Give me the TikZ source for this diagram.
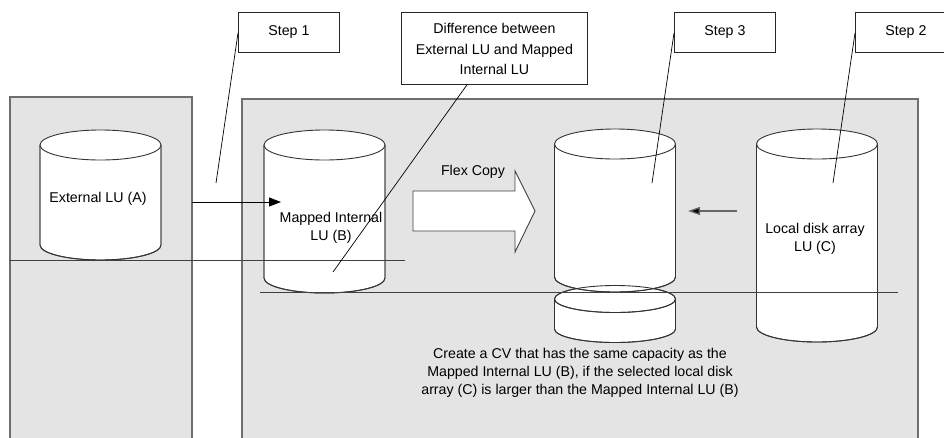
\documentclass[tikz,border=0pt]{standalone}
\usepackage{fontspec}
\setmainfont{Liberation Sans}
\usetikzlibrary{arrows.meta}
\definecolor{panelfill}{HTML}{E4E4E4}
\definecolor{panelline}{HTML}{6E6E6E}
\definecolor{rule}{HTML}{404040}
\newcommand{\mycyl}[5]{% name, cx, top cy, bottom cy, ry
  \coordinate (#1) at (#2,{(#3+#4)/2});
  \path[cylline,fill=white] (#2-60.5,#3) -- (#2-60.5,#4)
     arc[start angle=180,end angle=360,x radius=60.5pt,y radius=#5pt] -- (#2+60.5,#3) -- cycle;
  \draw[cylline] (#2-60.5,#3) -- (#2-60.5,#4)
     arc[start angle=180,end angle=360,x radius=60.5pt,y radius=#5pt] -- (#2+60.5,#3);
  \draw[cylline,fill=white] (#2,#3) ellipse[x radius=60.5pt,y radius=#5pt];
}
\tikzset{
  cylline/.style={draw=black!80,line width=0.9pt},
  panel/.style={fill=panelfill,draw=panelline,line width=1.1pt},
  callbox/.style={draw=black!85,fill=white,line width=0.8pt,inner sep=0pt,align=center},
  callline/.style={draw=black,line width=0.7pt},
  hrule/.style={draw=rule,line width=1pt},
  lbl/.style={font=\fontsize{14.2}{18}\selectfont,align=center,inner sep=0pt},
}
\begin{document}
\begin{tikzpicture}[x=1pt,y=-1pt]
\path[use as bounding box,fill=white] (0,0) rectangle (944,437);
\clip (0,0) rectangle (944,437);
% panels
\path[panel] (10,97) rectangle (192,450);
\path[panel] (242,99) rectangle (918,450);
% cylinders
\mycyl{cylA}{100.5}{145}{245}{15}
\mycyl{cylB}{324.5}{145}{278}{15}
% disk under step 3 cylinder
\mycyl{disk}{615}{299}{329}{13.5}
\mycyl{cylS}{615}{144}{277}{15}
\draw[cylline] (615,299) ellipse[x radius=60.5pt,y radius=13.5pt];
\mycyl{cylC}{817}{144}{327}{15}
% horizontal rules
\coordinate (r1a) at (10,260); \coordinate (r1b) at (405,260);
\coordinate (r2a) at (260,292); \coordinate (r2b) at (898,292);
\draw[hrule] (r1a) -- (r1b);
\draw[hrule] (r2a) -- (r2b);
% cylinder labels
\node[lbl] (tA) at (98,199) {External LU (A)};
\node[lbl] (tB) at (331,228) {Mapped Internal\\LU (B)};
\node[lbl] (tC) at (815,239) {Local disk array\\LU (C)};
% arrow A -> B
\coordinate (aout) at (192,202);
\coordinate (bin) at (281,202);
\draw[line width=1pt,-{Triangle[length=12pt,width=9pt]}] (aout) -- (bin);
% arrow C -> step 3
\coordinate (cout) at (737,211);
\coordinate (sin) at (688,211);
\draw[draw=black!60,line width=1.3pt,-{Triangle[length=12pt,width=8pt,fill=black]},color=black!60] (cout) -- (sin);
% flex copy arrow
\draw[fill=white,draw=black!75,line width=0.9pt] (413,191) -- (515,191) -- (515,171) -- (535,211) -- (515,252) -- (515,231) -- (413,231) -- cycle;
\coordinate (flex) at (474,211);
\node[lbl] (tFlex) at (473,172) {Flex Copy};
% callout boxes
\node[callbox,minimum width=101pt,minimum height=40pt,anchor=north west] (s1) at (238,12) {};
\node[lbl] at (s1.center) {Step 1};
\node[callbox,minimum width=186pt,minimum height=72pt,anchor=north west] (diff) at (401,12) {};
\node[lbl,font=\fontsize{14.2}{20.5}\selectfont] at ([yshift=-1pt]diff.center) {Difference between\\External LU and Mapped\\Internal LU};
\node[callbox,minimum width=101pt,minimum height=40pt,anchor=north west] (s3) at (674,12) {};
\node[lbl] at (s3.center) {Step 3};
\node[callbox,minimum width=101pt,minimum height=40pt,anchor=north west] (s2) at (855,12) {};
\node[lbl] at (s2.center) {Step 2};
% callout lines
\coordinate (p1) at (216,183);
\coordinate (pd) at (333,272);
\coordinate (p3) at (652,183);
\coordinate (p2) at (833,183);
\draw[callline] ([yshift=-21pt]s1.north west) -- (p1);
\draw[callline] ([xshift=66pt]diff.south west) -- (pd);
\draw[callline] ([yshift=-21pt]s3.north west) -- (p3);
\draw[callline] ([yshift=-21pt]s2.north west) -- (p2);
% bottom note
\node[lbl] (note) at (580,373) {Create a CV that has the same capacity as the\\Mapped Internal LU (B), if the selected local disk\\array (C) is larger than the Mapped Internal LU (B)};
\end{tikzpicture}
\end{document}
